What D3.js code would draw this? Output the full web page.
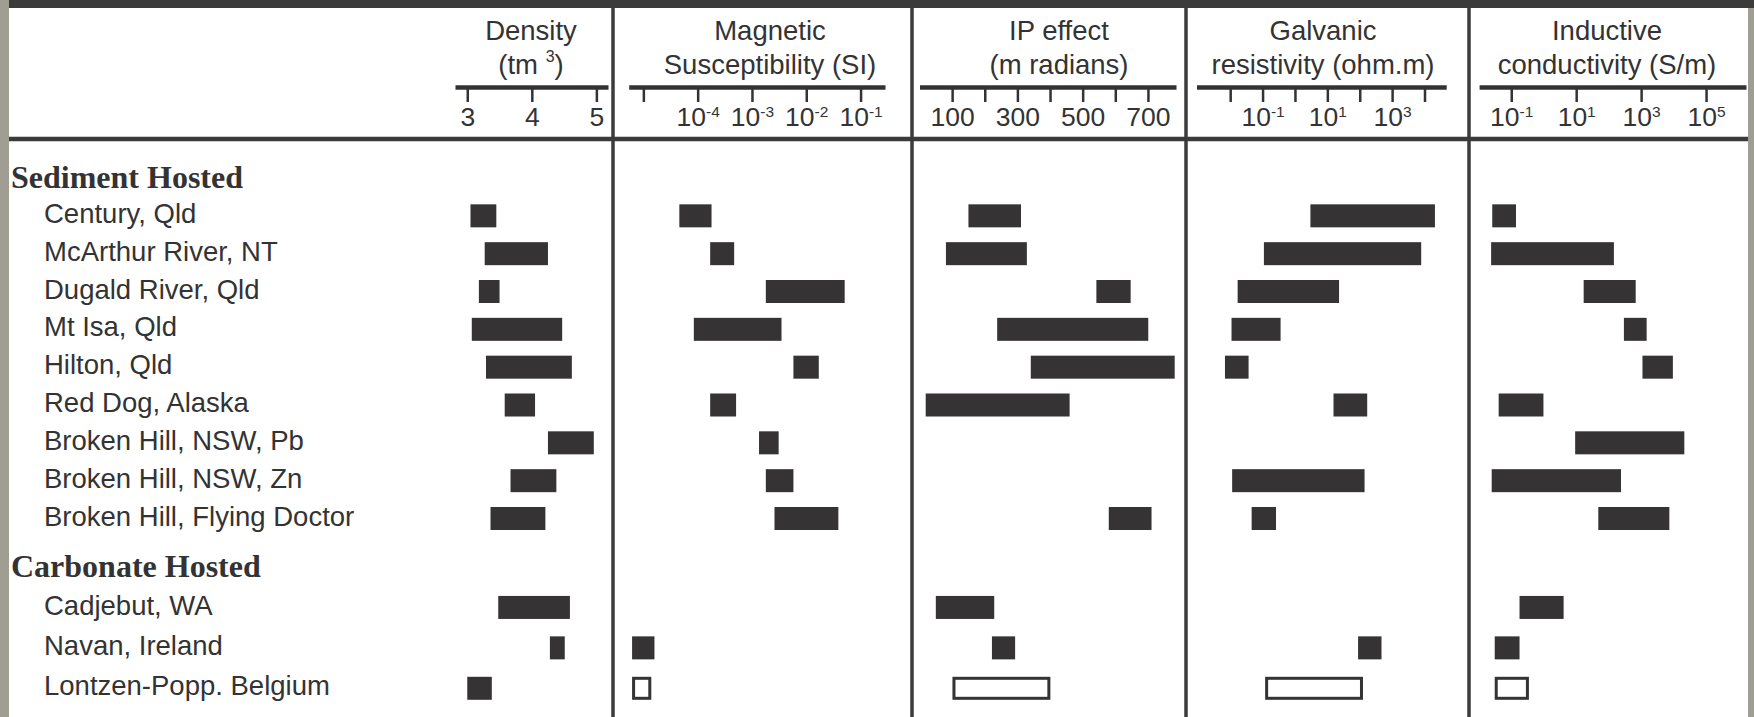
<!DOCTYPE html>
<html><head><meta charset="utf-8">
<script src="https://cdn.jsdelivr.net/npm/d3@7"></script>
<style>
html,body{margin:0;padding:0;background:#fff;}
svg{display:block;}
text{font-family:"Liberation Sans",Arial,sans-serif;fill:#333;}
</style></head><body><svg id="c" width="1754" height="717"></svg>
<script>
// ---------- data ----------
const groupNames = ["Sediment Hosted", "Carbonate Hosted"];
const sedimentDeposits = ["Century, Qld","McArthur River, NT","Dugald River, Qld","Mt Isa, Qld","Hilton, Qld","Red Dog, Alaska","Broken Hill, NSW, Pb","Broken Hill, NSW, Zn","Broken Hill, Flying Doctor"];
const carbonateDeposits = ["Cadjebut, WA","Navan, Ireland","Lontzen-Popp. Belgium"];
const deposits = sedimentDeposits.concat(carbonateDeposits);

// [low, high] ranges in deposit order; null = no data
const density = [[3.05,3.45],[3.27,4.25],[3.18,3.50],[3.07,4.47],[3.29,4.62],[3.58,4.05],[4.25,4.96],[3.67,4.38],[3.36,4.21],[3.48,4.59],[4.28,4.51],[3.0,3.38]];
const magSusc = [[4.6e-5,1.8e-4],[1.7e-4,4.7e-4],[1.8e-3,5.1e-2],[8.5e-5,3.5e-3],[5.8e-3,1.7e-2],[1.7e-4,5.1e-4],[1.35e-3,3.1e-3],[1.8e-3,5.8e-3],[2.6e-3,3.9e-2],null,[6.2e-6,1.6e-5],[6.2e-6,1.4e-5]];
const ipEffect = [[150,311],[81,329],[542,647],[238,701],[341,782],[19,460],null,null,[580,711],[50,229],[222,293],[101,401]];
const galvanicRes = [[3.0,21000],[0.11,7900],[0.017,23],[0.011,0.36],[0.0069,0.037],[15.5,170],null,[0.0115,141],[0.046,0.26],null,[89,470],[0.12,126]];
const inductiveCond = [[0.026,0.14],[0.024,145],[17,680],[295,1480],[1100,9500],[0.041,0.98],[9.3,21400],[0.025,240],[48,7400],[0.18,4.1],[0.031,0.18],[0.031,0.35]];
// deposits whose bars are drawn open (unfilled), per property
const openDensity = [];
const openMagSusc = ["Lontzen-Popp. Belgium"];
const openIp = ["Lontzen-Popp. Belgium"];
const openGalvanic = ["Lontzen-Popp. Belgium"];
const openInductive = ["Lontzen-Popp. Belgium"];

const titles = [["Density","(tm^3)"],["Magnetic","Susceptibility (SI)"],["IP effect","(m radians)"],["Galvanic","resistivity (ohm.m)"],["Inductive","conductivity (S/m)"]];
const densityTicks = [3,4,5];
const densityLabels = ["3","4","5"];
const magTicks = [1e-5,1e-4,1e-3,1e-2,1e-1];
const magLabels = ["","10^-4","10^-3","10^-2","10^-1"];
const ipTicks = [100,200,300,400,500,600,700];
const ipLabels = ["100","","300","","500","","700"];
const galvTicks = [1e-2,1e-1,1,10,100,1e3,1e4];
const galvLabels = ["","10^-1","","10^1","","10^3",""];
const indTicks = [1e-1,10,1e3,1e5];
const indLabels = ["10^-1","10^1","10^3","10^5"];

// ---------- layout ----------
const W = 1754, H = 717;
const ink = "#353334";
const svg = d3.select("#c");

svg.append("rect").attr("x",0).attr("y",0).attr("width",W).attr("height",H).attr("fill","#fff");
svg.append("rect").attr("x",0).attr("y",0).attr("width",W).attr("height",8).attr("fill","#3b3b3b");
svg.append("rect").attr("x",0).attr("y",0).attr("width",9).attr("height",H).attr("fill","#a09e92");
svg.append("rect").attr("x",1748).attr("y",8).attr("width",6).attr("height",H).attr("fill","#a09e92");
svg.append("line").attr("x1",9).attr("x2",1748).attr("y1",139).attr("y2",139).attr("stroke","#3b3b3b").attr("stroke-width",4.5);

const separators = [613, 912, 1186, 1469];
svg.selectAll("line.sep").data(separators).join("line").attr("class","sep")
  .attr("x1",d=>d).attr("x2",d=>d).attr("y1",8).attr("y2",H)
  .attr("stroke","#3b3b3b").attr("stroke-width",3.5);

// vertical scales per group
const ySed = d3.scalePoint().domain([groupNames[0]].concat(sedimentDeposits)).range([178, 518.5]);
const yCarb = d3.scalePoint().domain([groupNames[1]].concat(carbonateDeposits)).range([567, 688.3]);
const yOf = name => sedimentDeposits.includes(name) || name===groupNames[0] ? ySed(name) : yCarb(name);

// group headings
svg.selectAll("text.group").data(groupNames).join("text").attr("class","group")
  .attr("x",11).attr("y",d=>yOf(d)+10)
  .style("font-family","'Liberation Serif','Times New Roman',serif")
  .style("font-weight","bold").style("font-size","32px").attr("fill","#2e2e2e")
  .text(d=>d);

// row labels
svg.selectAll("text.row").data(deposits).join("text").attr("class","row")
  .attr("x",44).attr("y",d=>yOf(d)).attr("dy","0.26em")
  .style("font-size","27.5px").text(d=>d);

function supText(sel, baseSize, supSize){
  sel.each(function(){
    const t = d3.select(this);
    const s = t.text();
    if (s.indexOf("^")<0) return;
    const [base, sup] = s.split("^");
    t.text(null);
    t.append("tspan").text(base).style("font-size",baseSize+"px");
    t.append("tspan").text(sup).style("font-size",supSize+"px").attr("dy","-0.58em");
  });
}

const panels = [
  {data:density, open:openDensity, scale:d3.scaleLinear().domain([2.81,5.18]).range([455,608]), ticks:densityTicks, labels:densityLabels, tx:531},
  {data:magSusc, open:openMagSusc, scale:d3.scaleLog().domain([Math.pow(10,-5.27),Math.pow(10,-0.55)]).range([628.7,885]), ticks:magTicks, labels:magLabels, tx:770},
  {data:ipEffect, open:openIp, scale:d3.scaleLinear().domain([0,786]).range([919.5,1176]), ticks:ipTicks, labels:ipLabels, tx:1059},
  {data:galvanicRes, open:openGalvanic, scale:d3.scaleLog().domain([Math.pow(10,-3.04),Math.pow(10,4.67)]).range([1196.5,1446.2]), ticks:galvTicks, labels:galvLabels, tx:1323},
  {data:inductiveCond, open:openInductive, scale:d3.scaleLog().domain([Math.pow(10,-1.99),Math.pow(10,6.23)]).range([1479.1,1746]), ticks:indTicks, labels:indLabels, tx:1607}
];

const barH = 23;
panels.forEach((p, k) => {
  // titles
  const tt = svg.append("g");
  tt.append("text").attr("x",p.tx).attr("y",40).attr("text-anchor","middle").style("font-size","27.5px").text(titles[k][0]);
  const t2 = tt.append("text").attr("x",p.tx).attr("y",74).attr("text-anchor","middle").style("font-size","27.5px");
  if (titles[k][1].indexOf("^")>=0) {
    const m = titles[k][1].match(/^(.*)\^(\d)(.*)$/);
    t2.append("tspan").text(m[1]+" ");
    t2.append("tspan").text(m[2]).style("font-size","16px").attr("dy","-0.75em");
    t2.append("tspan").text(m[3]).attr("dy","0.44em");
  } else t2.text(titles[k][1]);

  // axis
  const axis = d3.axisBottom(p.scale).tickValues(p.ticks).tickSize(15).tickSizeOuter(0).tickPadding(5)
    .tickFormat((d,i)=>p.labels[i]);
  const g = svg.append("g").attr("transform","translate(0,87)").call(axis);
  g.select(".domain").attr("stroke","#333").attr("stroke-width",4.5);
  g.selectAll(".tick line").attr("stroke","#333").attr("stroke-width",2.5);
  g.selectAll(".tick text").attr("fill","#333").style("font-family","'Liberation Sans',Arial,sans-serif").style("font-size","26.5px");
  g.selectAll(".tick text").call(supText, 26.5, 15.5);

  // bars
  const rows = deposits.map((name,i)=>({name, v:p.data[i]})).filter(d=>d.v);
  svg.append("g").selectAll("rect").data(rows).join("rect")
    .each(function(d){
      const open = p.open.includes(d.name);
      const x0 = p.scale(d.v[0]), x1 = p.scale(d.v[1]);
      const y = yOf(d.name) - barH/2;
      const sw = 3;
      const r = d3.select(this);
      if (open) {
        r.attr("x",x0+sw/2).attr("y",y+sw/2).attr("width",x1-x0-sw).attr("height",barH-sw)
         .attr("fill","#fff").attr("stroke",ink).attr("stroke-width",sw);
      } else {
        r.attr("x",x0).attr("y",y).attr("width",x1-x0).attr("height",barH).attr("fill",ink);
      }
    });
});
</script></body></html>
